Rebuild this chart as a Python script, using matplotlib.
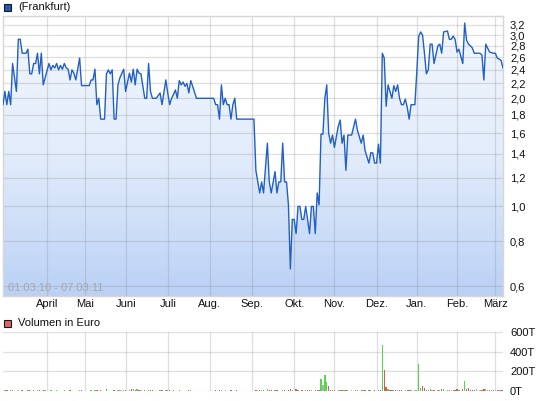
import numpy as np
import pandas as pd
import matplotlib
matplotlib.use("Agg")
import matplotlib.pyplot as plt
from matplotlib.colors import LinearSegmentedColormap
from matplotlib.ticker import FixedLocator, FuncFormatter

plt.rcParams['font.family'] = ['Liberation Sans', 'DejaVu Sans']

# ---------------- data ----------------
holidays = ['2010-04-02', '2010-04-05', '2010-12-24', '2010-12-31']
month_labels = ["April", "Mai", "Juni", "Juli", "Aug.", "Sep.", "Okt.", "Nov.",
                "Dez.", "Jan.", "Feb.", "März"]
price_ticks = [0.6, 0.8, 1.0, 1.2, 1.4, 1.6, 1.8, 2.0, 2.2, 2.4, 2.6, 2.8, 3.0, 3.2]
vol_ticks = [0, 200, 400, 600]  # thousand EUR

# trading session index -> closing price (EUR)
session = [0, 1, 2, 3, 4, 5, 7, 8, 9, 10, 12, 13, 14, 15, 16, 17, 18, 19, 20, 21, 22,
           24, 25, 26, 27, 28, 29, 30, 31, 32, 33, 34, 35, 36, 37, 38, 40, 41, 45, 46, 47,
           48, 49, 50, 51, 53, 54, 55, 56, 57, 58, 59, 60, 61, 63, 64, 66, 67, 68, 69, 70,
           71, 72, 74, 75, 76, 77, 78, 80, 82, 83, 85, 86, 87, 88, 89, 90, 91, 92, 93, 94,
           95, 96, 97, 98, 99, 101, 110, 111, 112, 113, 114, 115, 116, 117, 118, 119, 120,
           121, 122, 131, 132, 134, 135, 136, 138, 139, 140, 142, 143, 144, 145, 146, 147,
           148, 149, 150, 151, 152, 153, 154, 155, 156, 157, 158, 159, 160, 161, 162, 163,
           164, 165, 166, 167, 168, 169, 170, 171, 172, 173, 175, 176, 177, 178, 179, 180,
           182, 184, 185, 187, 188, 189, 191, 192, 193, 194, 195, 196, 197, 198, 199, 200,
           201, 202, 203, 204, 205, 206, 207, 208, 209, 210, 211, 212, 213, 215, 216, 217,
           218, 219, 220, 221, 222, 223, 224, 225, 227, 228, 229, 230, 232, 233, 234, 235,
           236, 237, 238, 240, 241, 242, 243, 244, 245, 246, 249, 250, 251, 252, 254, 256,
           257, 258, 260, 261]
price = [1.92, 2.09, 1.92, 2.09, 1.92, 2.50, 2.09, 2.92, 2.92, 2.67, 2.67, 2.74, 2.34,
         2.34, 2.50, 2.50, 2.67, 2.34, 2.67, 2.18, 2.28,
         2.50, 2.40, 2.47, 2.43, 2.50, 2.40, 2.47, 2.41, 2.50, 2.43, 2.41, 2.25, 2.40,
         2.35, 2.25, 2.59, 2.17, 2.17, 2.25, 2.25,
         2.41, 1.92, 2.00, 1.75, 1.75, 2.34, 2.40, 2.34, 2.40, 1.75, 1.75, 2.18, 2.28,
         2.41, 2.09, 2.35, 2.22, 2.41, 2.18, 2.41,
         2.35, 2.34, 2.00, 2.00, 2.50, 2.09, 2.00, 2.00, 2.07, 1.92, 2.25, 2.07, 1.92,
         2.00, 2.05, 2.11, 2.00, 2.24, 2.18, 2.22,
         2.16, 2.20, 2.07, 2.24, 2.16, 2.00, 2.00, 1.92, 1.92, 1.75, 2.18, 1.92, 2.00,
         1.92, 1.92, 1.75, 1.92,
         2.00, 1.75, 1.75, 1.26, 1.09, 1.17, 1.09, 1.50, 1.17, 1.09, 1.25, 1.09, 1.17,
         1.17, 1.50, 1.17,
         1.17, 1.01, 0.67, 0.92, 0.92, 0.84, 1.00, 1.00, 0.92, 0.92, 1.00, 0.92, 0.84,
         1.00, 1.00, 0.84,
         1.09, 1.01, 1.59, 1.59, 2.00, 2.18, 1.60, 1.50, 1.58, 1.46, 1.67, 1.74, 1.50,
         1.58, 1.26, 1.58,
         1.58, 1.75, 1.63, 1.50, 1.58, 1.43, 1.32, 1.41, 1.41, 1.32, 1.32, 1.49, 1.32,
         2.67, 2.59, 1.90,
         2.18, 2.09, 2.00, 2.17, 2.09, 2.18, 2.00, 1.92, 1.92, 1.99, 1.89, 1.75, 1.92,
         1.92, 2.37, 2.98,
         3.06, 3.00, 2.67, 2.34, 2.40, 2.83, 2.83, 2.50, 2.80, 2.83, 2.67, 3.06, 3.08,
         2.92, 2.92, 2.98,
         2.92, 2.69, 2.74, 2.50, 3.24, 2.90, 2.83, 2.80, 2.76, 2.67, 2.67, 2.64, 2.25,
         2.83, 2.69, 2.67,
         2.67, 2.59, 2.55, 2.43]

# daily turnover bars (thousand EUR); colour: g = up, r = down, n = unchanged
vol_session = [
    1, 2, 3, 4, 5, 7, 8, 10, 13, 14, 16, 18, 19, 20, 21, 22, 24, 25, 28, 30, 32, 35,
    40, 41, 46, 48, 49, 51, 54, 56, 58, 60, 61, 63,
    64, 66, 67, 68, 69, 70, 71, 72, 74, 76, 77, 78, 82, 83, 85,
    86, 87, 89, 91, 92, 95, 97, 98, 101, 111, 113, 114, 115, 116, 119, 120, 121, 122,
    132, 134, 135, 136, 138, 139, 140, 142, 143, 146, 147, 149, 150, 151, 153, 154, 156,
    158, 159, 160, 161, 163, 164, 165,
    166, 167, 168, 169, 170,
    171, 172, 173, 175, 176, 177, 178, 179, 180, 182, 184, 185, 187, 188, 189, 191, 192,
    194, 196, 197,
    198, 199, 200,
    201, 202, 203, 204, 205, 206, 207, 208, 210, 211, 212, 213, 215, 216,
    217, 218, 219, 220,
    221, 222, 223, 224, 225, 227, 228, 229, 230, 232, 233, 234, 235, 236, 237, 238, 240,
    241, 242, 243,
    244, 245, 246, 247, 249, 250, 251, 252, 253, 254, 255, 256, 257, 258, 259, 260, 261]
vol_value = [
    8, 6, 5, 6, 12, 5, 15, 8, 6, 10, 6, 8, 6, 5, 10, 6, 5, 8, 6, 5, 8, 6,
    15, 12, 6, 10, 15, 8, 18, 5, 12, 10, 8, 6,
    15, 12, 20, 18, 12, 22, 10, 8, 15, 12, 10, 6, 8, 10, 12,
    6, 8, 6, 5, 8, 5, 6, 6, 5, 8, 6, 10, 5, 6, 8, 5, 5, 6,
    12, 15, 10, 10, 18, 12, 10, 8, 10, 12, 10, 15, 25, 10, 18, 10, 8,
    8, 6, 8, 10, 8, 10, 8,
    123, 62, 164, 95, 51,
    10, 12, 10, 12, 10, 12, 10, 15, 12, 10, 12, 8, 10, 8, 8, 10, 6,
    8, 6, 10,
    472, 215, 40,
    25, 12, 10, 12, 8, 10, 8, 6, 10, 8, 12, 10, 6, 12,
    277, 30, 55, 35,
    15, 12, 18, 15, 12, 15, 10, 18, 25, 15, 12, 10, 12, 15, 18, 10, 20,
    103, 25, 30,
    15, 12, 10, 18, 10, 15, 20, 18, 12, 15, 10, 12, 8, 10, 8, 12, 10]
vol_dir = list(
    "grgrgrgrgrggrgrgrggggr"
    "grggrrgrrggg"
    "rgrgrgrnrgrrgrg"
    "rrgrgrrgrrrgrgrggr"
    "rrgrgrrgrgrrrgrgr"
    "grrgrgr"
    "gnggr"
    "rgrggrgrgngrrgrrgrgr"
    "grr"
    "grrgrgrrgrrgng"
    "ggrr"
    "rggnrggrggrngrrgr"
    "grr"
    "rrrnnrrggrnrnrnrr")

# ---------------- calendar ----------------
days = pd.bdate_range('2010-03-01', '2011-03-07')
days = days[~days.isin(pd.to_datetime(holidays))]
n_days = len(days)
month_pos = [i for i in range(1, n_days) if days[i].month != days[i - 1].month]

# ---------------- figure ----------------
W, H = 545, 401
fig = plt.figure(figsize=(W / 100, H / 100), dpi=100)
fig.patch.set_facecolor('white')


def frac(l, t, r, b):
    return [l / W, 1 - b / H, (r - l) / W, (b - t) / H]


grid_kw = dict(color='#8c8c8c', alpha=0.28, lw=0.9)
spine_col = '#d6d6d6'

ax = fig.add_axes(frac(3, 16, 503, 296))
ax.set_yscale('log')
ymin, ymax = 0.563, 3.39
ax.set_xlim(0, n_days - 1)
ax.set_ylim(ymin, ymax)

# gradient fill under the line (light at top, blue at bottom)
grad = np.linspace(0, 1, 256).reshape(-1, 1)
cmap = LinearSegmentedColormap.from_list('g', ['#f3f7fd', '#e2ecfb', '#bad1f5'])
im = ax.imshow(grad, extent=[0, 1, 0, 1], origin='upper', transform=ax.transAxes,
               aspect='auto', cmap=cmap, zorder=1, interpolation='bilinear')
fill = ax.fill_between(session, price, ymin, facecolor='none', edgecolor='none', zorder=1)
im.set_clip_path(fill.get_paths()[0], transform=ax.transData)
ax.set_xlim(0, n_days - 1)
ax.set_ylim(ymin, ymax)

for p in month_pos:
    ax.axvline(p, zorder=2, **grid_kw)
for t in price_ticks:
    ax.axhline(t, zorder=2, **grid_kw)

ax.plot(session, price, color='#2160c4', lw=1.0, zorder=3)

ax.yaxis.tick_right()
ax.yaxis.set_major_locator(FixedLocator(price_ticks))
ax.yaxis.set_minor_locator(FixedLocator([]))
ax.yaxis.set_major_formatter(FuncFormatter(lambda v, _: f"{v:.1f}".replace('.', ',')))
ax.set_xticks(month_pos)
ax.set_xticklabels(month_labels)
ax.tick_params(axis='both', length=0, labelsize=8, colors='#111111')
ax.tick_params(axis='y', pad=5)
ax.tick_params(axis='x', pad=2)
for s in ax.spines.values():
    s.set_color(spine_col)
    s.set_linewidth(1)
ax.text(0.01, 0.012, "01.03.10 - 07.03.11", transform=ax.transAxes, fontsize=8,
        color='#a8a8a8', va='bottom', ha='left', zorder=4)

# legend 1
fig.patches.append(plt.Rectangle((4 / W, 1 - 11 / H), 7 / W, 7 / H, transform=fig.transFigure,
                                 facecolor='#2458b8', edgecolor='#1a1a1a', lw=0.8))
fig.text(18 / W, 1 - 7.5 / H, "(Frankfurt)", fontsize=8, va='center', ha='left', color='#111111')

# ---------------- volume ----------------
av = fig.add_axes(frac(3, 332, 503, 391))
av.set_xlim(0, n_days - 1)
av.set_ylim(0, 600)
for p in month_pos:
    av.axvline(p, zorder=1, **grid_kw)
for t in vol_ticks:
    av.axhline(t, zorder=1, **grid_kw)
col_map = {'g': '#55d64b', 'r': '#e05555', 'n': '#b0b0b0'}
av.bar(vol_session, vol_value, width=0.7,
       color=[col_map[c] for c in vol_dir], zorder=2, linewidth=0)
av.yaxis.tick_right()
av.set_yticks(vol_ticks)
av.set_yticklabels([f"{v}T" for v in vol_ticks])
av.set_xticks([])
av.tick_params(axis='both', length=0, labelsize=8, colors='#111111', pad=5)
for s in av.spines.values():
    s.set_visible(False)

fig.patches.append(plt.Rectangle((4 / W, 1 - 327 / H), 7 / W, 7 / H, transform=fig.transFigure,
                                 facecolor='#e06666', edgecolor='#1a1a1a', lw=0.8))
fig.text(18 / W, 1 - 323.5 / H, "Volumen in Euro", fontsize=8, va='center', ha='left',
         color='#111111')

fig.savefig('out.png', dpi=100)
